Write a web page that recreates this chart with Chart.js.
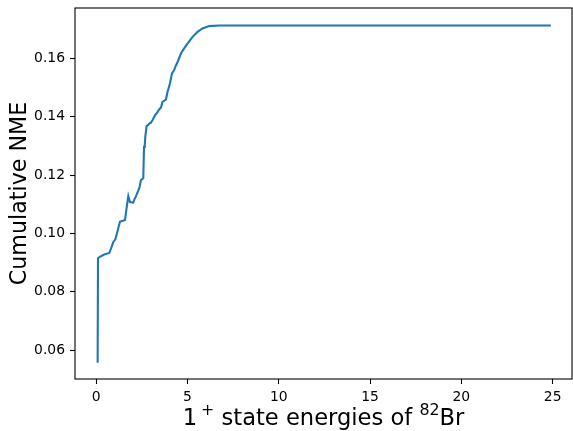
<!DOCTYPE html>
<html>
<head>
<meta charset="utf-8">
<script src="https://cdn.jsdelivr.net/npm/chart.js@4/dist/chart.umd.min.js"></script>
<style>
  body { margin: 0; background: #fff; }
  #wrap { width: 573px; height: 431px; }
</style>
</head>
<body>
<div id="wrap"><canvas id="myChart" width="573" height="431"></canvas></div>
<script>
// 1+ state energies (MeV) and the running NME sum
const energies = [0.08, 0.10, 0.20, 0.44, 0.72, 0.85, 0.94, 1.05, 1.18, 1.30,
  1.58, 1.66, 1.76, 1.85, 2.03, 2.10, 2.18, 2.30, 2.38, 2.45,
  2.58, 2.62, 2.66, 2.69, 2.76, 2.85, 2.91, 3.00, 3.09, 3.23,
  3.35, 3.45, 3.55, 3.63, 3.82, 3.91, 4.04, 4.15, 4.27, 4.36,
  4.46, 4.64, 4.78, 5.00, 5.28, 5.55, 5.82, 6.19, 6.74, 8.0,
  12.0, 16.0, 20.0, 24.9];
const cumulativeNme = [0.0557, 0.0915, 0.0920, 0.0928, 0.0933, 0.0955, 0.0971, 0.0980, 0.1010, 0.1040,
  0.1046, 0.1085, 0.1128, 0.1108, 0.1106, 0.1118, 0.1128, 0.1146, 0.1160, 0.1183,
  0.1189, 0.1297, 0.1300, 0.1331, 0.1368, 0.1372, 0.1377, 0.1380, 0.1389, 0.1406,
  0.1415, 0.1425, 0.1432, 0.1451, 0.1459, 0.1486, 0.1514, 0.1549, 0.1560, 0.1575,
  0.1588, 0.1617, 0.1631, 0.1651, 0.1674, 0.1691, 0.1703, 0.1711, 0.1713, 0.1713,
  0.1713, 0.1713, 0.1713, 0.1713];
const xTicks = [0, 5, 10, 15, 20, 25];
const yTicks = [0.06, 0.08, 0.10, 0.12, 0.14, 0.16];
// x label pieces: [text, superscript?]
const xTitleParts = [["1", false], ["+", true], [" state energies of ", false], ["82", true], ["Br", false]];

const FONT = "'DejaVu Sans', sans-serif";

// matplotlib-like frame and the x label with real superscripts
const framePlugin = {
  id: "frame",
  afterDraw(chart) {
    const { ctx, chartArea: a } = chart;
    ctx.save();
    ctx.strokeStyle = "#000";
    ctx.lineWidth = 1.1;
    ctx.strokeRect(a.left, a.top, a.right - a.left, a.bottom - a.top);

    const big = 22.6, small = 15.8;
    ctx.fillStyle = "#000";
    ctx.textBaseline = "alphabetic";
    ctx.textAlign = "left";
    let total = 0;
    const widths = xTitleParts.map(([t, sup]) => {
      ctx.font = (sup ? small : big) + "px " + FONT;
      const w = ctx.measureText(t).width + (t === "1" ? 4 : 0);
      total += w;
      return w;
    });
    let x = (a.left + a.right) / 2 - total / 2;
    const base = 425;
    xTitleParts.forEach(([t, sup], i) => {
      ctx.font = (sup ? small : big) + "px " + FONT;
      ctx.fillText(t, x, sup ? base - 10 : base);
      x += widths[i];
    });
    ctx.restore();
  }
};

const tickFont = { family: FONT, size: 13.9 };

new Chart(document.getElementById("myChart"), {
  type: "line",
  data: {
    datasets: [{
      data: energies.map((e, i) => ({ x: e, y: cumulativeNme[i] })),
      borderColor: "#1f77b4",
      borderWidth: 2.1,
      pointRadius: 0,
      tension: 0,
      fill: false
    }]
  },
  options: {
    responsive: false,
    devicePixelRatio: 1,
    animation: false,
    layout: { padding: { top: 8, right: 1, bottom: 0, left: 0 } },
    plugins: { legend: { display: false }, tooltip: { enabled: false } },
    scales: {
      x: {
        type: "linear",
        min: -1.16,
        max: 26.06,
        afterBuildTicks: (s) => { s.ticks = xTicks.map((v) => ({ value: v })); },
        afterFit: (s) => { s.height = 52; s.paddingLeft = 0; s.paddingRight = 0; },
        border: { display: false },
        grid: { drawOnChartArea: false, drawTicks: true, tickLength: 5, tickColor: "#000", tickWidth: 1.1 },
        ticks: { font: tickFont, color: "#000", padding: 5, maxRotation: 0, callback: (v) => String(v) }
      },
      y: {
        type: "linear",
        min: 0.0501,
        max: 0.1773,
        afterBuildTicks: (s) => { s.ticks = yTicks.map((v) => ({ value: v })); },
        afterFit: (s) => { s.width = 75; s.paddingTop = 0; s.paddingBottom = 0; },
        border: { display: false },
        grid: { drawOnChartArea: false, drawTicks: true, tickLength: 5, tickColor: "#000", tickWidth: 1.1 },
        ticks: { font: tickFont, color: "#000", padding: 5, callback: (v) => v.toFixed(2) },
        title: {
          display: true,
          text: "Cumulative NME",
          color: "#000",
          font: { family: FONT, size: 22.2 },
          padding: { top: 7, bottom: 0 }
        }
      }
    }
  },
  plugins: [framePlugin]
});
</script>
</body>
</html>
